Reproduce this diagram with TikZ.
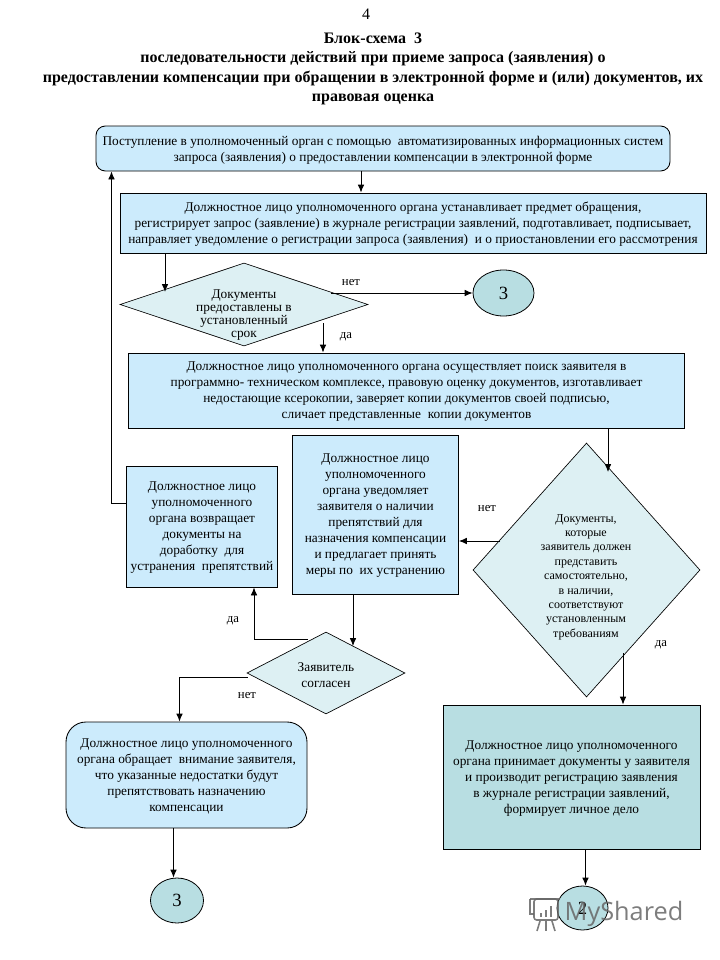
\documentclass[tikz,border=0pt]{standalone}
\usepackage{fontspec}
\setmainfont{Liberation Serif}
\newfontfamily\markfont{Open Sans}
\usetikzlibrary{arrows.meta}
\usetikzlibrary{shapes.geometric}
\definecolor{pale}{HTML}{CCEBFC}
\definecolor{mint}{HTML}{DDF0F3}
\definecolor{teal}{HTML}{B8DEE2}
\tikzset{
  wh/.style 2 args={minimum width=#1*0.75pt, minimum height=#2*0.75pt, inner sep=0pt},
  stepbox/.style={draw=black, line width=.65pt, fill=pale, align=center, text depth=0pt, font=\fontsize{10}{12}\selectfont},
  roundbox/.style={stepbox, rounded corners=#1},
  tealbox/.style={stepbox, fill=teal},
  choice/.style={diamond, draw=black, line width=.5pt, fill=mint, inner sep=0pt, aspect=1},
  choicetext/.style={align=center, inner sep=0pt},
  jump/.style={ellipse, draw=black, line width=.6pt, fill=teal, inner sep=0pt, font=\fontsize{14}{16}\selectfont},
  answer/.style={inner sep=0pt, font=\fontsize{9.6}{11}\selectfont},
  flow/.style={draw=black, line width=.65pt, -{Latex[length=6pt,width=5pt]}}
}
\begin{document}
\begin{tikzpicture}[x=.75pt, y=-.75pt]
    \useasboundingbox (0,0) rectangle (720,960);

    \node[inner sep=0pt, font=\fontsize{12}{14}\selectfont] (pageno) at (366,14) {4};
    \node[inner sep=0pt, align=center, font=\bfseries\fontsize{12}{14.4}\selectfont] (title) at (373,69)
      {Блок-схема \ 3\\последовательности действий при приеме запроса (заявления) о\\
       предоставлении компенсации при обращении в электронной форме и (или) документов, их\\правовая оценка};

    \node[roundbox=7pt, wh={574}{45}] (intake) at (383,148.5)
      {Поступление в уполномоченный орган с помощью \ автоматизированных информационных систем\\
       запроса (заявления) о предоставлении компенсации в электронной форме};
    \node[stepbox, wh={586}{60}] (register) at (413,223)
      {Должностное лицо уполномоченного органа устанавливает предмет обращения,\\
       регистрирует запрос (заявление) в журнале регистрации заявлений, подготавливает, подписывает,\\
       направляет уведомление о регистрации запроса (заявления) \ и о приостановлении его рассмотрения};
    \node[choice, wh={248}{83}] (deadline) at (244,304.5) {};
    \node[choicetext, font=\fontsize{10}{9.6}\selectfont] (deadlinetext) at (244,315)
      {Документы\\предоставлены в\\установленный\\срок};
    \node[jump, wh={61}{46}] (jumpa) at (503.5,293) {3};
    \node[stepbox, wh={556}{75}] (search) at (406.5,390.5)
      {Должностное лицо уполномоченного органа осуществляет поиск заявителя в\\
       программно- техническом комплексе, правовую оценку документов, изготавливает\\
       недостающие ксерокопии, заверяет копии документов своей подписью,\\
       сличает представленные \ копии документов};
    \node[stepbox, wh={151}{121}] (giveback) at (202,526.5)
      {Должностное лицо\\уполномоченного\\органа возвращает\\документы на\\
       доработку \ для\\устранения \ препятствий};
    \node[stepbox, wh={166}{159}] (notify) at (375.5,514.5)
      {Должностное лицо\\уполномоченного\\органа уведомляет\\заявителя о наличии\\
       препятствий для\\назначения компенсации\\и предлагает принять\\меры по \ их устранению};
    \node[choice, wh={227}{254}] (valid) at (586.5,570) {};
    \node[choicetext, font=\fontsize{9}{10.8}\selectfont] (validtext) at (586,577)
      {Документы,\\которые\\заявитель должен\\представить\\самостоятельно,\\в наличии,\\
       соответствуют\\установленным\\требованиям};
    \node[choice, wh={158}{82}] (agrees) at (326,673) {};
    \node[choicetext, font=\fontsize{10}{12}\selectfont] (agreestext) at (326,675)
      {Заявитель\\согласен};
    \node[roundbox=15pt, wh={241}{106}] (warn) at (186.5,775)
      {Должностное лицо уполномоченного\\органа обращает \ внимание заявителя,\\
       что указанные недостатки будут\\препятствовать назначению\\компенсации};
    \node[tealbox, wh={257}{144}] (accept) at (571.5,777)
      {Должностное лицо уполномоченного\\органа принимает документы у заявителя\\
       и производит регистрацию заявления\\в журнале регистрации заявлений,\\формирует личное дело};
    \node[jump, wh={53}{45}] (jumpb) at (177,900.5) {3};
    \node[jump, wh={51}{44}] (jumpc) at (582.5,908) {2};

    \coordinate (intakeout) at (361,171);
    \coordinate (warnout) at (173.5,828);
    \coordinate (acceptout) at (585.5,849);
    \coordinate (deadlinein) at (165,292);
    \coordinate (deadlineno) at (331,293);
    \coordinate (deadlineyes) at (323,323);
    \coordinate (validin) at (608,472);
    \coordinate (validno) at (500,541);
    \coordinate (validyes) at (623,653);
    \coordinate (agreesin) at (353,646);
    \coordinate (agreesyes) at (307.5,639);
    \coordinate (agreesno) at (247.5,677);
    \coordinate (backbend) at (111.5,503);
    \coordinate (yesbend) at (254,639);
    \coordinate (nobend) at (179.5,677);

    \draw[flow] (intakeout) -- (register.north -| intakeout);
    \draw[flow] (register.south -| deadlinein) -- (deadlinein);
    \draw[flow] (deadlineno) -- (jumpa.west);
    \draw[flow] (deadlineyes) -- (search.north -| deadlineyes);
    \draw[flow] (search.south -| validin) -- (validin);
    \draw[flow] (validno) -- (notify.east |- validno);
    \draw[flow] (validyes) -- (accept.north -| validyes);
    \draw[flow] (notify.south -| agreesin) -- (agreesin);
    \draw[flow] (agreesyes) -- (yesbend) -- (giveback.south -| yesbend);
    \draw[flow] (agreesno) -- (nobend) -- (warn.north -| nobend);
    \draw[flow] (giveback.west |- backbend) -- (backbend) -- (intake.south -| backbend);
    \draw[flow] (warnout) -- (jumpb.north -| warnout);
    \draw[flow] (acceptout) -- (jumpc.north -| acceptout);

    \node[answer] (noa) at (351,283) {нет};
    \node[answer] (yesa) at (346,337) {да};
    \node[answer] (nob) at (487,509) {нет};
    \node[answer] (yesb) at (661,645) {да};
    \node[answer] (yesc) at (233,621) {да};
    \node[answer] (noc) at (247,696) {нет};

    % watermark
    \node[inner sep=0pt, text=black!60, opacity=.85, font=\markfont\fontsize{19}{22}\selectfont] (mark) at (624,914) {MyShared};
    \begin{scope}[draw=black!60, line width=1.2pt, opacity=.85]
      \draw (530,899) -- (560,899);
      \draw[rounded corners=2pt] (534,899) rectangle (558,920);
      \draw (530,899) -- (530,914) -- (534,914);
      \foreach \i/\h in {541/4,546/7,551/11}{
        \draw[line width=2pt] (\i,917) -- (\i,917-\h);
      }
      \draw (540,921) -- (537,931);
      \draw (546,921) -- (546,931);
      \draw (552,921) -- (555,931);
    \end{scope}
\end{tikzpicture}
\end{document}
